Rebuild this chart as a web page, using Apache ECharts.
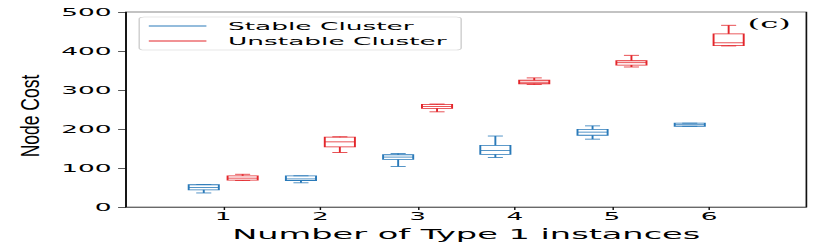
<!DOCTYPE html>
<html><head><meta charset="utf-8">
<script src="https://cdn.jsdelivr.net/npm/echarts@6/dist/echarts.min.js"></script>
<style>
html,body{margin:0;padding:0;background:#fff;overflow:hidden;}
#chart{width:345.833px;height:245px;transform:scaleX(2.4);transform-origin:0 0;}
</style></head><body><div id="chart"></div>
<script>
// x categories (padding slots at both ends, ticks at 1..6)
const categories = ['', '1', '2', '3', '4', '5', '6', ''];
const seriesNames = ['Stable Cluster', 'Unstable Cluster'];
// [min, Q1, median, Q3, max] for 1..6 Type 1 instances
const stableStats = [[36,44,50,57,58],[62,68,72,80,80],[104,122,128,134,137],[127,135,145,158,182],[174,184,192,199,208],[207,207,211,215,215]];
const unstableStats = [[68,69,74,80,84],[140,154,167,179,180],[244,253,258,263,264],[314,316,320,325,331],[359,364,370,375,389],[413,414,421,444,466]];
const yTicks = [0, 100, 200, 300, 400, 500];
const xTitle = 'Number of Type 1 instances';
const yTitle = 'Node Cost';
const panelTag = '(c)';

const colors = ['#2a7ab9', '#e3262b'];
const showIdx = (i) => i >= 1 && i <= 6;

function toData(stats) { return stats.map((s, i) => [i + 1].concat(s)); }

function makeRender(offsetFrac, color) {
  return function (params, api) {
    const xi = api.value(0);
    const band = api.size([1, 0])[0];
    const cx = api.coord([xi, 0])[0] + offsetFrac * band;
    const bw = 0.31 * band, cw = 0.155 * band;
    const y = (k) => api.coord([xi, api.value(k)])[1];
    const yMin = y(1), yQ1 = y(2), yMed = y(3), yQ3 = y(4), yMax = y(5);
    const st = { stroke: color, lineWidth: 0.8, fill: 'none' };
    return { type: 'group', children: [
      { type: 'rect', shape: { x: cx - bw / 2, y: yQ3, width: bw, height: yQ1 - yQ3 }, style: st },
      { type: 'line', shape: { x1: cx - bw / 2, y1: yMed, x2: cx + bw / 2, y2: yMed }, style: st },
      { type: 'line', shape: { x1: cx, y1: yQ3, x2: cx, y2: yMax }, style: st },
      { type: 'line', shape: { x1: cx, y1: yQ1, x2: cx, y2: yMin }, style: st },
      { type: 'line', shape: { x1: cx - cw / 2, y1: yMax, x2: cx + cw / 2, y2: yMax }, style: st },
      { type: 'line', shape: { x1: cx - cw / 2, y1: yMin, x2: cx + cw / 2, y2: yMin }, style: st }
    ]};
  };
}

const chart = echarts.init(document.getElementById('chart'), null, { renderer: 'svg' });
chart.setOption({
  animation: false,
  backgroundColor: '#fff',
  textStyle: { fontFamily: 'DejaVu Sans' },
  grid: { left: 52.5, right: 10, top: 12, bottom: 38, show: true, borderColor: '#111', borderWidth: 0.7, containLabel: false, outerBoundsMode: 'none' },
  legend: {
    left: 58, top: 17, orient: 'vertical',
    data: seriesNames.map((n) => ({ name: n, icon: 'rect' })),
    itemWidth: 24, itemHeight: 1.2, itemGap: 1,
    padding: [2, 6, 2, 4],
    backgroundColor: '#fff', borderColor: '#cfcfcf', borderWidth: 0.6, borderRadius: 2,
    textStyle: { fontSize: 11, color: '#000', lineHeight: 14, padding: [0, 0, 0, 4], fontFamily: 'DejaVu Sans' }
  },
  xAxis: {
    type: 'category', data: categories, boundaryGap: false,
    axisLine: { lineStyle: { color: '#111', width: 0.7 } },
    axisTick: { interval: (i) => showIdx(i), length: 3, lineStyle: { color: '#111', width: 0.6 } },
    axisLabel: { interval: (i) => showIdx(i), fontSize: 11, margin: 4, color: '#000', fontFamily: 'DejaVu Sans' },
    splitLine: { show: false },
    name: xTitle, nameLocation: 'middle', nameGap: 15,
    nameTextStyle: { fontSize: 14, color: '#000', fontFamily: 'DejaVu Sans' }
  },
  yAxis: {
    type: 'value', min: yTicks[0], max: yTicks[yTicks.length - 1], interval: yTicks[1] - yTicks[0],
    axisLine: { show: true, lineStyle: { color: '#111', width: 0.7 } },
    axisTick: { show: true, length: 3.3, lineStyle: { color: '#111', width: 0.7 } },
    axisLabel: { fontSize: 11, margin: 6, color: '#000', fontFamily: 'DejaVu Sans' },
    splitLine: { show: false }
  },
  graphic: [
    { type: 'text', x: 12.5, y: 116, rotation: Math.PI / 2, scaleY: 0.62,
      style: { text: yTitle, font: '17.5px "Liberation Sans"', fill: '#000', align: 'center', verticalAlign: 'middle' } },
    { type: 'text', x: 311.5, y: 16,
      style: { text: panelTag, font: '13.5px "DejaVu Serif"', fill: '#000', align: 'left', verticalAlign: 'top' } }
  ],
  series: [
    { name: seriesNames[0], type: 'custom', itemStyle: { color: colors[0] },
      renderItem: makeRender(-0.2, colors[0]), encode: { x: 0, y: [1, 2, 3, 4, 5] }, data: toData(stableStats) },
    { name: seriesNames[1], type: 'custom', itemStyle: { color: colors[1] },
      renderItem: makeRender(0.2, colors[1]), encode: { x: 0, y: [1, 2, 3, 4, 5] }, data: toData(unstableStats) }
  ]
});
</script></body></html>
